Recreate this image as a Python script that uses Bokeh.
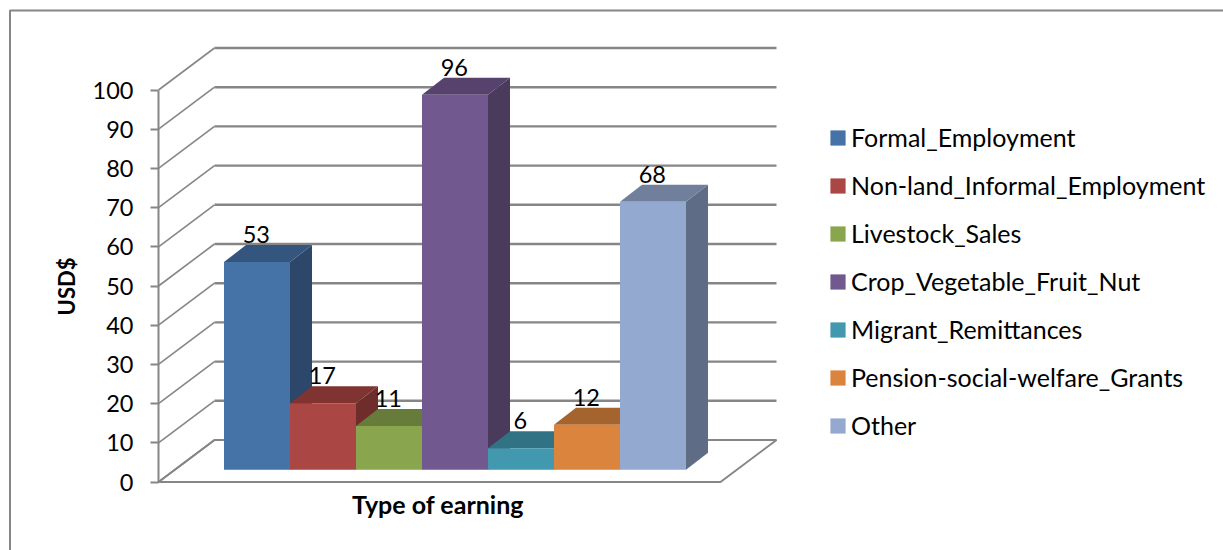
from bokeh.core.properties import value
from bokeh.embed import file_html
from bokeh.models import ColumnDataSource, FixedTicker, Legend, LegendItem, LinearAxis, Range1d
from bokeh.plotting import figure
from bokeh.resources import INLINE

categories = ["Formal_Employment", "Non-land_Informal_Employment", "Livestock_Sales",
              "Crop_Vegetable_Fruit_Nut", "Migrant_Remittances",
              "Pension-social-welfare_Grants", "Other"]
values = [53.0, 17.0, 11.2, 95.7, 5.5, 11.5, 68.4]
data_labels = ["53", "17", "11", "96", "6", "12", "68"]
front_colors = ["#4572A7", "#AA4643", "#89A54E", "#71588F", "#4198AF", "#DB843D", "#93A9CF"]
top_colors = ["#34557D", "#803432", "#677C3B", "#56426C", "#317384", "#A5632E", "#6F7F9C"]
side_colors = ["#2C476A", "#6E2D2B", "#586A32", "#4A3A5C", "#2A6271", "#8C5427", "#5E6C85"]
y_ticks = list(range(0, 101, 10))
y_title = "USD$"
x_title = "Type of earning"

FONT = "Lato"
GRID = "#868686"
PX_X = 66.0        # pixels per category
PX_Y = 3.92        # pixels per USD
W, H = 1223, 550
AXIS_PX, ZERO_PX = 158.0, 481.5

# depth of the box (wall) and of the bars, in data units
WALL_DX, WALL_DY = 56 / PX_X, 42 / PX_Y
BAR_DX, BAR_DY = 22 / PX_X, 17 / PX_Y
BAR_OFF_DY = 12.2 / PX_Y
FIRST_BAR = 65.5 / PX_X    # gap between the axis and the first bar
FLOOR_W = 562 / PX_X

x_start = -AXIS_PX / PX_X
y_start = -(H - ZERO_PX) / PX_Y
x_end = x_start + W / PX_X
y_end = y_start + H / PX_Y
p = figure(width=W, height=H, output_backend="svg", toolbar_location=None,
           x_range=Range1d(x_start, x_end), y_range=Range1d(y_start, y_end),
           x_axis_type=None, y_axis_type=None,
           min_border_left=0, min_border_right=0, min_border_top=0, min_border_bottom=0,
           background_fill_color="white", border_fill_color="white")
p.outline_line_color = None
p.grid.visible = False

# chart border
p.line([x_start + 9.5 / PX_X, x_start + 9.5 / PX_X, x_end],
       [y_start, y_end - 10 / PX_Y, y_end - 10 / PX_Y], line_color=GRID, line_width=2)

# y axis
ax = LinearAxis(ticker=FixedTicker(ticks=y_ticks), bounds=(0, 100), fixed_location=0,
                axis_label=y_title, axis_label_text_font=FONT, axis_label_text_font_style="bold",
                axis_label_text_font_size="22px", axis_label_text_color="black", axis_label_standoff=10,
                major_label_text_font=FONT, major_label_text_font_size="23.5px",
                major_label_text_color="black", major_label_standoff=17,
                axis_line_color=GRID, axis_line_width=2,
                major_tick_line_color=GRID, major_tick_line_width=2,
                major_tick_in=0, major_tick_out=8, minor_tick_line_color=None)
p.add_layout(ax, "left")

# floor
p.patch([0, WALL_DX, WALL_DX + FLOOR_W, FLOOR_W], [0, WALL_DY, WALL_DY, 0],
        fill_color="white", line_color=GRID, line_width=2)

# walls: diagonal on the side wall and horizontal on the back wall
p.multi_line([[0, WALL_DX] for _ in y_ticks], [[v, v + WALL_DY] for v in y_ticks],
             line_color=GRID, line_width=1.6)
p.multi_line([[WALL_DX, WALL_DX + FLOOR_W] for _ in y_ticks[1:]], [[v + WALL_DY] * 2 for v in y_ticks[1:]],
             line_color=GRID, line_width=2.4)

# bars, left to right
legend_items = []
for i, (name, v) in enumerate(zip(categories, values)):
    l = FIRST_BAR + i
    r = l + 1
    b = BAR_OFF_DY
    t = b + v
    p.patch([r, r + BAR_DX, r + BAR_DX, r], [b, b + BAR_DY, t + BAR_DY, t],
            fill_color=side_colors[i], line_color=None)
    p.patch([l, r, r + BAR_DX, l + BAR_DX], [t, t, t + BAR_DY, t + BAR_DY],
            fill_color=top_colors[i], line_color=None)
    front = p.quad(left=l, right=r, bottom=b, top=t, fill_color=front_colors[i], line_color=None)
    legend_items.append(LegendItem(label=name, renderers=[front]))

# data labels
src = ColumnDataSource(dict(
    x=[FIRST_BAR + i + 0.49 for i in range(len(values))],
    y=[v + BAR_OFF_DY + BAR_DY + 10.5 / PX_Y for v in values],
    t=data_labels))
p.text("x", "y", text="t", source=src, text_font=value(FONT), text_font_size="23.5px",
       text_align="center", text_baseline="alphabetic", text_color="black")

# category axis title
p.text([FLOOR_W / 2 - 1.5 / PX_X], [(ZERO_PX - 503) / PX_Y], text=[x_title], text_font=value(FONT),
       text_font_size="25px", text_font_style="bold", text_align="center",
       text_baseline="alphabetic", text_color="black")

# legend
legend = Legend(items=legend_items, location=(828, H - 440),
                orientation="vertical", glyph_width=19, glyph_height=19, label_standoff=4,
                spacing=18, padding=0, margin=0, border_line_color=None, background_fill_alpha=0,
                label_text_font=FONT, label_text_font_size="25px", label_text_color="black",
                label_height=26)
p.add_layout(legend, "center")

open("out.html", "w").write(file_html(p, INLINE))
